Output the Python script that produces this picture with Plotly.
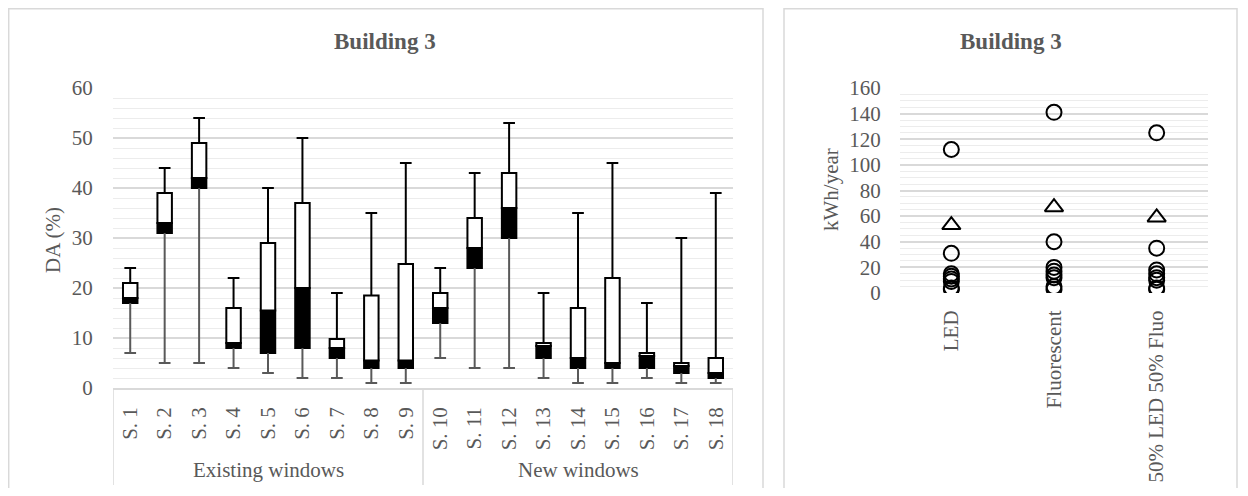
import plotly.graph_objects as go

# ---------------- data: left chart (daylight autonomy box plots) ----------------
scenarios = ["S. 1", "S. 2", "S. 3", "S. 4", "S. 5", "S. 6", "S. 7", "S. 8", "S. 9",
             "S. 10", "S. 11", "S. 12", "S. 13", "S. 14", "S. 15", "S. 16", "S. 17", "S. 18"]
da_min    = [7, 5, 5, 4, 3, 2, 2, 1, 1, 6, 4, 4, 2, 1, 1, 2, 1, 1]
da_q1     = [17, 31, 40, 8, 7, 8, 6, 4, 4, 13, 24, 30, 6, 4, 4, 4, 3, 2]
da_median = [18, 33, 42, 9, 15.5, 20, 8, 5.5, 5.5, 16, 28, 36, 8.4, 6, 5, 6.4, 4.4, 3]
da_q3     = [21, 39, 49, 16, 29, 37, 9.8, 18.5, 24.8, 19, 34, 43, 9, 16, 22, 7, 5, 6]
da_max    = [24, 44, 54, 22, 40, 50, 19, 35, 45, 24, 43, 53, 19, 35, 45, 17, 30, 39]
groups = ["Existing windows", "New windows"]
group_sizes = [9, 9]

# ---------------- data: right chart (lighting energy) ----------------
lamp_types = ["LED", "Fluorescent", "50% LED 50% Fluo"]
energy_points = {
    "LED": [112, 31, 15, 13, 11, 9, 4, 3],
    "Fluorescent": [141, 40, 20, 17, 14, 12, 5, 3],
    "50% LED 50% Fluo": [125, 35, 18, 15, 12, 10, 4, 3],
}
energy_mean = [53, 67, 59]

# ---------------- styling ----------------
OFF = 8                      # page body margin
W, H = 1248 - 2 * OFF, 496 - 2 * OFF
FONT = "Liberation Serif, Times New Roman, serif"
TXT = "#595959"
GRID = "#d9d9d9"
MINOR = "#ececec"

def px_x(p):
    return (p - OFF) / W

def px_y(p):
    return 1 - (p - OFF) / H

fig = go.Figure()

xs = list(range(len(scenarios)))
box_w = 0.42
cap = 0.17

fig.add_trace(go.Bar(
    x=xs, base=da_q1, y=[m - q for m, q in zip(da_median, da_q1)],
    width=box_w, marker=dict(color="black", line=dict(color="black", width=2)),
    xaxis="x", yaxis="y", showlegend=False, hoverinfo="skip"))
fig.add_trace(go.Bar(
    x=xs, base=da_median, y=[q - m for q, m in zip(da_q3, da_median)],
    width=box_w, marker=dict(color="white", line=dict(color="black", width=2)),
    xaxis="x", yaxis="y", showlegend=False, hoverinfo="skip"))

up_x, up_y, lo_x, lo_y = [], [], [], []
for i in xs:
    up_x += [i, i, None, i - cap, i + cap, None]
    up_y += [da_q3[i], da_max[i], None, da_max[i], da_max[i], None]
    lo_x += [i, i, None, i - cap, i + cap, None]
    lo_y += [da_q1[i], da_min[i], None, da_min[i], da_min[i], None]
fig.add_trace(go.Scatter(x=up_x, y=up_y, mode="lines", line=dict(color="black", width=2),
                         xaxis="x", yaxis="y", showlegend=False, hoverinfo="skip"))
fig.add_trace(go.Scatter(x=lo_x, y=lo_y, mode="lines", line=dict(color="#595959", width=2),
                         xaxis="x", yaxis="y", showlegend=False, hoverinfo="skip"))

cx, cy = [], []
for lt in lamp_types:
    for v in energy_points[lt]:
        cx.append(lt)
        cy.append(v)
fig.add_trace(go.Scatter(x=cx, y=cy, mode="markers",
                         marker=dict(symbol="circle-open", size=15, color="black", line=dict(width=2)),
                         xaxis="x2", yaxis="y2", showlegend=False))
fig.add_trace(go.Scatter(x=lamp_types, y=energy_mean, mode="markers",
                         marker=dict(symbol="triangle-up-open", size=16, color="black", line=dict(width=2)),
                         xaxis="x2", yaxis="y2", showlegend=False))

tickfont = dict(family=FONT, size=21, color=TXT)
clear = "rgba(0,0,0,0)"

fig.update_layout(
    width=W, height=H,
    margin=dict(l=0, r=0, t=0, b=0, autoexpand=False),
    paper_bgcolor="white", plot_bgcolor="white",
    barmode="overlay",
    font=dict(family=FONT, color=TXT),
    xaxis=dict(domain=[px_x(113), px_x(733)], range=[-0.5, 17.5], automargin=False,
               tickvals=xs, ticktext=scenarios, tickangle=-90, tickfont=tickfont,
               showgrid=False, zeroline=False, showline=True, linecolor=GRID, linewidth=1.5,
               ticks="outside", ticklen=9, tickcolor=clear, fixedrange=True),
    yaxis=dict(domain=[px_y(388), px_y(88)], range=[0, 60], dtick=10, tickfont=tickfont,
               automargin=False,
               showgrid=True, gridcolor=GRID, gridwidth=1.5, zeroline=False,
               minor=dict(dtick=2, showgrid=True, gridcolor=MINOR, gridwidth=1),
               ticks="outside", ticklen=15, tickcolor=clear, fixedrange=True),
    xaxis2=dict(domain=[px_x(900), px_x(1208)], type="category", anchor="y2", range=[-0.5, 2.5],
                categoryorder="array", categoryarray=lamp_types, automargin=False,
                tickangle=-90, tickfont=tickfont, showgrid=False, zeroline=False,
                showline=False, ticks="outside", ticklen=8, tickcolor=clear),
    yaxis2=dict(domain=[px_y(293), px_y(88)], range=[0, 160], dtick=20, anchor="x2",
                automargin=False,
                tickfont=tickfont, showgrid=True, gridcolor=GRID, gridwidth=1.5, zeroline=False,
                minor=dict(dtick=5, showgrid=True, gridcolor=MINOR, gridwidth=1),
                ticks="outside", ticklen=14, tickcolor=clear),
)

shapes = [
    dict(type="rect", xref="paper", yref="paper", x0=px_x(8.7), x1=px_x(763), y0=-0.05, y1=px_y(8.7),
         line=dict(color=GRID, width=1.5), layer="below"),
    dict(type="rect", xref="paper", yref="paper", x0=px_x(784), x1=px_x(1237), y0=-0.05, y1=px_y(8.7),
         line=dict(color=GRID, width=1.5), layer="below"),
]
edges = [-0.5]
for s in group_sizes:
    edges.append(edges[-1] + s)
for e in edges:
    shapes.append(dict(type="line", xref="x", yref="paper", x0=e, x1=e, y0=px_y(388), y1=px_y(485),
                       line=dict(color=GRID, width=1.5)))
fig.update_layout(shapes=shapes)

annotations = [
    dict(text="<b>Building 3</b>", xref="paper", yref="paper", x=px_x(385), y=px_y(42),
         xanchor="center", yanchor="middle",
         showarrow=False, font=dict(family=FONT, size=23, color=TXT)),
    dict(text="<b>Building 3</b>", xref="paper", yref="paper", x=px_x(1011), y=px_y(42),
         xanchor="center", yanchor="middle",
         showarrow=False, font=dict(family=FONT, size=23, color=TXT)),
    dict(text="DA (%)", xref="paper", yref="paper", x=px_x(53), y=px_y(240), textangle=-90,
         xanchor="center", yanchor="middle",
         showarrow=False, font=dict(family=FONT, size=21, color=TXT)),
    dict(text="kWh/year", xref="paper", yref="paper", x=px_x(831), y=px_y(190), textangle=-90,
         xanchor="center", yanchor="middle",
         showarrow=False, font=dict(family=FONT, size=21, color=TXT)),
]
for gi, g in enumerate(groups):
    center = (edges[gi] + edges[gi + 1]) / 2
    annotations.append(dict(text=g, xref="x", yref="paper", x=center, y=px_y(470),
                            xanchor="center", yanchor="middle",
                            showarrow=False, font=dict(family=FONT, size=21, color=TXT)))
fig.update_layout(annotations=annotations)

fig.write_html("out.html")
